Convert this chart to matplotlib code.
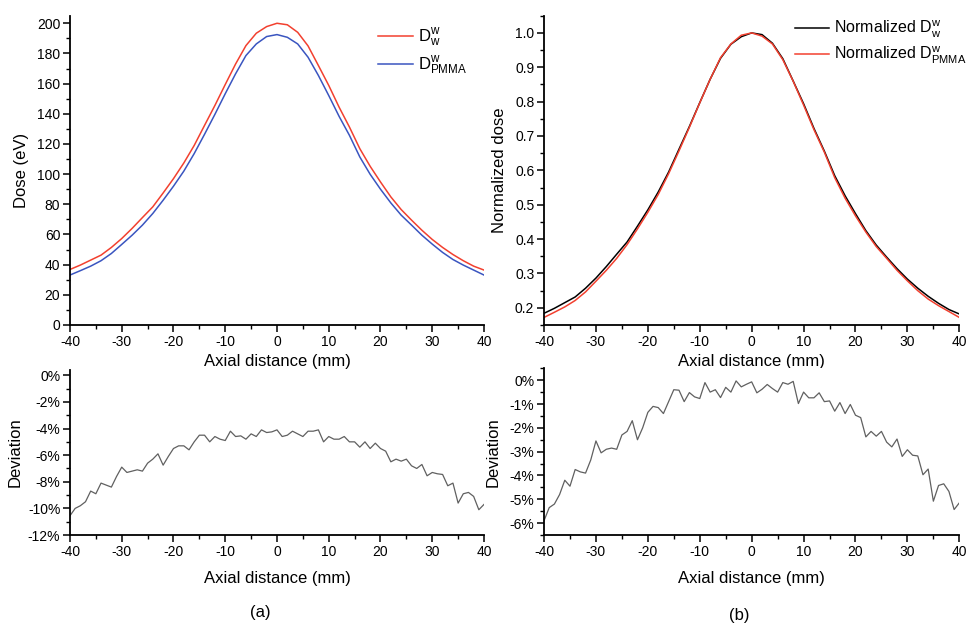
import numpy as np
import matplotlib
matplotlib.use('Agg')
import matplotlib.pyplot as plt
from matplotlib.ticker import MultipleLocator, FuncFormatter

plt.rcParams['font.family'] = ['Liberation Sans', 'DejaVu Sans']
plt.rcParams['mathtext.fontset'] = 'custom'
plt.rcParams['mathtext.rm'] = 'Liberation Sans'
plt.rcParams['axes.unicode_minus'] = False

# dose profiles, 2 mm step
dose_x = np.arange(-40, 41, 2)
dose_w = [36.8, 39.7, 43.0, 46.3, 51.4, 57.3, 64.0, 71.2, 78.3, 87.5,
          97.0, 107.4, 119.0, 132.3, 145.5, 159.4, 173.0, 185.2, 193.4, 197.8,
          200.0,
          199.0, 194.0, 185.0, 172.0, 158.8, 144.4, 131.2, 116.9, 105.2, 94.8,
          84.9, 76.5, 69.5, 62.8, 56.7, 51.4, 46.7, 42.6, 39.0, 36.4]
dose_pmma = [33.1, 36.0, 39.0, 42.6, 47.4, 53.4, 59.5, 66.2, 73.9, 82.7,
             92.0, 102.0, 113.6, 126.4, 139.6, 153.3, 166.5, 178.6, 186.3, 191.2,
             192.5,
             190.7, 186.3, 177.5, 165.4, 152.1, 138.3, 125.7, 111.4, 99.9, 90.0,
             80.9, 72.8, 66.2, 59.5, 53.6, 48.1, 43.4, 39.7, 36.4, 33.1]

# deviation (%), 1 mm step
dev_x = np.arange(-40, 41, 1)
dev_abs = [-10.55, -10.0, -9.8, -9.5, -8.7, -8.9, -8.1, -8.25, -8.4, -7.6,
           -6.9, -7.3, -7.2, -7.1, -7.2, -6.6, -6.3, -5.9, -6.75, -6.1,
           -5.5, -5.3, -5.3, -5.6, -5.0, -4.5, -4.5, -5.0, -4.6, -4.8,
           -4.9, -4.2, -4.6, -4.55, -4.8, -4.4, -4.6, -4.1, -4.3, -4.25,
           -4.1,
           -4.6, -4.5, -4.2, -4.4, -4.6, -4.2, -4.2, -4.1, -5.0, -4.6,
           -4.8, -4.8, -4.6, -5.0, -5.0, -5.4, -5.0, -5.5, -5.1, -5.5,
           -5.7, -6.5, -6.3, -6.45, -6.3, -6.8, -7.0, -6.7, -7.55, -7.3,
           -7.4, -7.45, -8.3, -8.1, -9.6, -8.9, -8.8, -9.1, -10.1, -9.7]
dev_norm = [-5.9, -5.35, -5.2, -4.8, -4.2, -4.45, -3.75, -3.85, -3.9, -3.35,
            -2.55, -3.05, -2.9, -2.85, -2.9, -2.3, -2.15, -1.7, -2.5, -2.0,
            -1.35, -1.1, -1.15, -1.4, -0.9, -0.4, -0.42, -0.9, -0.52, -0.7,
            -0.77, -0.1, -0.5, -0.4, -0.73, -0.3, -0.5, -0.03, -0.28, -0.17,
            -0.07,
            -0.53, -0.38, -0.18, -0.35, -0.5, -0.1, -0.17, -0.05, -0.98, -0.5,
            -0.74, -0.74, -0.53, -0.9, -0.87, -1.3, -0.94, -1.4, -1.02, -1.47,
            -1.57, -2.38, -2.15, -2.35, -2.15, -2.6, -2.8, -2.47, -3.2, -2.92,
            -3.15, -3.18, -3.97, -3.73, -5.08, -4.42, -4.35, -4.67, -5.43, -5.15]

norm_w = np.array(dose_w) / max(dose_w)
norm_pmma = np.array(dose_pmma) / max(dose_pmma)

RED = '#f2402f'
BLUE = '#3a55c0'
GRAY = '#606060'


def style_axes(ax):
    for side in ('top', 'right'):
        ax.spines[side].set_visible(False)
    for side in ('left', 'bottom'):
        ax.spines[side].set_linewidth(1.3)
    ax.tick_params(which='major', direction='out', length=5, width=1.1, labelsize=10, pad=2)
    ax.tick_params(which='minor', direction='out', length=3, width=1.0)
    ax.set_xlim(-40, 40)
    ax.xaxis.set_major_locator(MultipleLocator(10))
    ax.xaxis.set_minor_locator(MultipleLocator(5))


fig = plt.figure(figsize=(9.76, 6.24), dpi=100)
ax1 = fig.add_axes([0.0717, 0.4792, 0.4242, 0.4956])
ax2 = fig.add_axes([0.5574, 0.4792, 0.4255, 0.4956])
ax3 = fig.add_axes([0.0717, 0.1426, 0.4242, 0.2645])
ax4 = fig.add_axes([0.5574, 0.1426, 0.4255, 0.2672])

pct = FuncFormatter(lambda v, p: '%d%%' % round(v))
leg_kw = dict(loc='upper left', frameon=False, fontsize=12, handlelength=2.1,
              handletextpad=0.3, labelspacing=0.3, borderpad=0, borderaxespad=0)

# (a) top
ax1.plot(dose_x, dose_w, color=RED, lw=1.1, label=r'$\mathregular{D^{w}_{w}}$')
ax1.plot(dose_x, dose_pmma, color=BLUE, lw=1.1, label=r'$\mathregular{D^{w}_{PMMA}}$')
style_axes(ax1)
ax1.set_ylim(0, 205)
ax1.yaxis.set_major_locator(MultipleLocator(20))
ax1.yaxis.set_minor_locator(MultipleLocator(10))
ax1.set_ylabel('Dose (eV)', fontsize=12, labelpad=6)
ax1.set_xlabel('Axial distance (mm)', fontsize=12, labelpad=4)
ax1.legend(bbox_to_anchor=(0.744, 0.965), **leg_kw)

# (b) top
ax2.plot(dose_x, norm_w, color='black', lw=1.1, label=r'Normalized $\mathregular{D^{w}_{w}}$')
ax2.plot(dose_x, norm_pmma, color=RED, lw=1.1, label=r'Normalized $\mathregular{D^{w}_{PMMA}}$')
style_axes(ax2)
ax2.set_ylim(0.15, 1.05)
ax2.yaxis.set_major_locator(MultipleLocator(0.1))
ax2.yaxis.set_minor_locator(MultipleLocator(0.05))
ax2.yaxis.set_major_formatter(FuncFormatter(lambda v, p: '%.1f' % v))
ax2.set_ylabel('Normalized dose', fontsize=12, labelpad=6)
ax2.set_xlabel('Axial distance (mm)', fontsize=12, labelpad=4)
leg_kw2 = dict(leg_kw, fontsize=11.5)
ax2.legend(bbox_to_anchor=(0.605, 0.99), **leg_kw2)

# (a) bottom
ax3.plot(dev_x, dev_abs, color=GRAY, lw=0.9)
style_axes(ax3)
ax3.set_ylim(-12, 0.4)
ax3.yaxis.set_major_locator(MultipleLocator(2))
ax3.yaxis.set_minor_locator(MultipleLocator(1))
ax3.yaxis.set_major_formatter(pct)
ax3.set_ylabel('Deviation', fontsize=12, labelpad=4)
ax3.set_xlabel('Axial distance (mm)', fontsize=12, labelpad=9)

# (b) bottom
ax4.plot(dev_x, dev_norm, color=GRAY, lw=0.9)
style_axes(ax4)
ax4.set_ylim(-6.5, 0.5)
ax4.yaxis.set_major_locator(MultipleLocator(1))
ax4.yaxis.set_minor_locator(MultipleLocator(0.5))
ax4.yaxis.set_major_formatter(pct)
ax4.set_ylabel('Deviation', fontsize=12, labelpad=6)
ax4.set_xlabel('Axial distance (mm)', fontsize=12, labelpad=9)

fig.text(0.267, 0.019, '(a)', fontsize=12, ha='center', va='center')
fig.text(0.757, 0.014, '(b)', fontsize=12, ha='center', va='center')

fig.savefig('out.png', dpi=100)
